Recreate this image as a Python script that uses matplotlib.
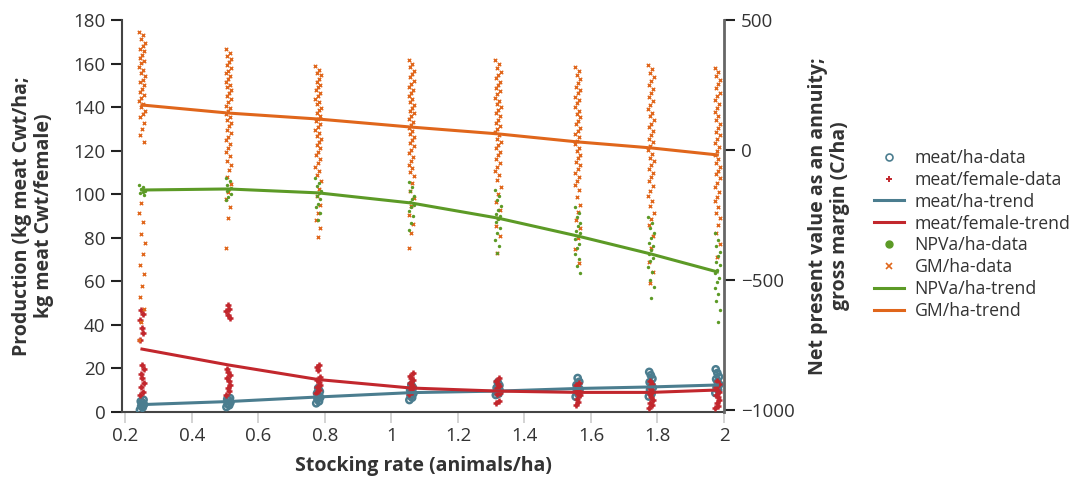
import numpy as np
import matplotlib
matplotlib.use("Agg")
import matplotlib.pyplot as plt
from matplotlib.lines import Line2D

plt.rcParams['font.family'] = ['Open Sans', 'DejaVu Sans']

# stocking rates (animals/ha)
rates = [0.25, 0.51, 0.78, 1.06, 1.32, 1.56, 1.78, 1.98]

# trend lines
meat_ha_trend = [3.4, 4.8, 6.9, 8.9, 9.6, 10.8, 11.5, 12.4]
meat_female_trend = [28.9, 21.6, 14.9, 11.0, 9.6, 9.0, 9.0, 10.1]
gm_trend = [173, 142, 119, 88, 62, 31, 8, -19]
npva_trend = [-154, -150, -165, -204, -262, -331, -400, -469]

# meat/ha data (kg meat Cwt/ha), one list per stocking rate
meat_ha_data = [
    [1.0, 2.1, 2.7, 3.4, 4.3, 4.9, 5.6],
    [2.3, 3.1, 3.7, 4.4, 5.3, 5.9, 6.4],
    [4.0, 4.9, 6.1, 6.7, 7.4, 8.6, 9.4, 11.0],
    [5.5, 6.6, 7.4, 8.5, 9.3, 10.1, 11.2, 12.4],
    [7.8, 8.4, 9.3, 9.8, 10.5, 11.1, 12.2, 13.6],
    [7.0, 8.1, 9.6, 10.4, 11.6, 12.4, 13.9, 15.6],
    [7.1, 8.4, 10.1, 11.2, 12.6, 13.7, 15.3, 16.9, 18.4],
    [8.7, 10.1, 11.2, 12.6, 13.7, 15.1, 16.2, 17.9, 19.6],
]

# meat/female data (kg meat Cwt/female)
meat_female_data = [
    [7.8, 9.4, 11.6, 13.3, 15.7, 17.4, 19.6, 21.6, 33.2, 36.1, 38.8, 42.3, 44.9, 47.0],
    [7.9, 9.6, 11.1, 12.4, 14.2, 15.4, 17.1, 18.4, 19.7, 43.1, 44.6, 46.2, 47.4, 49.0],
    [8.7, 10.1, 11.3, 12.4, 13.6, 14.7, 16.1, 19.4, 20.6, 21.6],
    [8.1, 9.4, 10.6, 11.4, 12.6, 13.4, 14.6, 15.4, 16.6, 18.0],
    [4.0, 4.9, 8.1, 8.9, 10.1, 10.9, 12.1, 12.9, 14.1, 15.6],
    [3.2, 4.6, 5.9, 7.6, 8.4, 9.6, 10.4, 11.6, 12.4, 13.3],
    [1.8, 3.1, 4.1, 5.6, 6.7, 8.1, 9.1, 10.5, 11.5, 12.9, 14.1],
    [1.9, 2.9, 4.3, 5.4, 6.9, 7.9, 9.3, 10.3, 11.7, 12.7, 14.2],
]

# NPVa/ha data (C/ha)
npva_data = [
    [-135, -144, -151, -156, -161, -166, -173],
    [-108, -121, -133, -146, -151, -159, -171, -181, -192],
    [-108, -126, -139, -156, -164, -176, -189, -206, -219, -241, -269],
    [-123, -141, -159, -176, -189, -201, -211, -219, -236, -254, -281, -308],
    [-154, -176, -194, -216, -229, -246, -254, -266, -279, -301, -319, -346, -369, -396],
    [-219, -241, -259, -281, -294, -311, -319, -331, -344, -361, -379, -401, -419, -446, -473],
    [-258, -281, -299, -321, -339, -356, -369, -386, -399, -416, -429, -451, -469, -501, -529, -569],
    [-319, -346, -369, -391, -409, -431, -444, -461, -474, -491, -509, -531, -554, -581, -614, -662],
]

# GM/ha data (C/ha)
gm_data = [
    [454, 441, 428, 412, 401, 388, 379, 366, 352, 341, 333, 318, 309, 296, 284, 271,
     262, 249, 236, 224, 211, 199, 188, 176, 164, 151, 140, 126, 104, 81, 56, 31,
     -204, -243, -279, -322, -358, -401, -442, -478, -522, -566, -611, -662, -731],
    [388, 372, 361, 349, 338, 327, 316, 304, 295, 283, 272, 263, 251, 241, 229, 218,
     207, 196, 184, 171, 162, 149, 139, 126, 114, 103, 91, 78, 66, 51, 38, 22,
     9, -6, -22, -41, -58, -77, -104, -131, -162, -189, -219, -262, -377],
    [323, 309, 296, 287, 274, 263, 251, 241, 229, 219, 208, 196, 186, 176, 163, 153,
     142, 131, 121, 111, 99, 88, 77, 66, 54, 43, 31, 19, 8, -6, -19, -36,
     -51, -66, -82, -96, -121, -151, -178, -211, -241, -268, -302, -335],
    [346, 331, 318, 303, 291, 279, 266, 254, 243, 231, 219, 208, 197, 186, 174, 163,
     151, 141, 129, 118, 106, 96, 84, 72, 61, 49, 38, 26, 14, 1, -12, -26,
     -41, -56, -71, -84, -99, -126, -156, -186, -216, -251, -286, -321, -377],
    [346, 329, 316, 301, 289, 276, 262, 251, 238, 226, 214, 201, 189, 178, 166, 153,
     141, 129, 117, 104, 93, 81, 68, 57, 44, 31, 19, 6, -8, -21, -36, -51,
     -66, -81, -97, -114, -141, -169, -201, -229, -262, -291, -331, -396],
    [319, 303, 289, 273, 259, 244, 231, 218, 204, 191, 179, 164, 151, 139, 126, 113,
     99, 86, 74, 61, 48, 36, 22, 9, -4, -18, -31, -46, -59, -74, -89, -103,
     -118, -134, -154, -181, -211, -239, -271, -301, -339, -381, -435],
    [327, 311, 296, 279, 264, 249, 234, 219, 203, 189, 173, 159, 144, 129, 116, 101,
     87, 72, 58, 43, 29, 14, 1, -14, -29, -44, -58, -74, -89, -104, -121, -138,
     -156, -176, -196, -216, -241, -264, -288, -331, -379, -431, -469, -512],
    [315, 299, 284, 268, 253, 238, 221, 206, 191, 176, 161, 146, 131, 116, 101, 86,
     71, 56, 41, 26, 11, -4, -19, -34, -49, -64, -79, -94, -109, -126, -143, -161,
     -179, -198, -219, -241, -263, -288, -321, -361, -412],
]

BLUE = '#4b7d8f'
RED = '#c2272d'
GREEN = '#5c9a26'
ORANGE = '#e0661b'
TXT = '#333333'


def jitter(n, w):
    return ((np.arange(n) * 7) % 11 - 5) * w


fig = plt.figure(figsize=(10.78, 4.79), dpi=100)
ax = fig.add_axes([122 / 1078, 1 - 412 / 479, 602 / 1078, 392 / 479])
ax2 = ax.twinx()

for x, vals in zip(rates, meat_ha_data):
    ax.scatter(x + jitter(len(vals), 0.0012), vals, s=20, marker='o', facecolors='none',
               edgecolors=BLUE, linewidths=1.8, zorder=3)
for x, vals in zip(rates, meat_female_data):
    ax.scatter(x + jitter(len(vals), 0.0012), vals, s=18, marker='+', color=RED,
               linewidths=1.8, zorder=4)
ax.plot(rates, meat_ha_trend, color=BLUE, lw=2.2, zorder=5)
ax.plot(rates, meat_female_trend, color=RED, lw=2.2, zorder=5)

for x, vals in zip(rates, gm_data):
    ax2.scatter(x + jitter(len(vals), 0.0017), vals, s=6, marker='x', color=ORANGE,
                linewidths=1.0, zorder=2)
for x, vals in zip(rates, npva_data):
    ax2.scatter(x + jitter(len(vals), 0.0017), vals, s=6, marker='o', color=GREEN,
                linewidths=0, zorder=3)
ax2.plot(rates, npva_trend, color=GREEN, lw=2.2, zorder=4)
ax2.plot(rates, gm_trend, color=ORANGE, lw=2.2, zorder=4)

ax.set_xlim(0.19, 2.0)
ax.set_ylim(0, 180)
ax2.set_ylim(-1008, 500)
ax.set_xticks([0.2, 0.4, 0.6, 0.8, 1.0, 1.2, 1.4, 1.6, 1.8, 2.0])
ax.set_xticklabels(['0.2', '0.4', '0.6', '0.8', '1', '1.2', '1.4', '1.6', '1.8', '2'])
ax.set_yticks(range(0, 181, 20))
ax2.set_yticks([500, 0, -500, -1000])

for a in (ax, ax2):
    a.spines['top'].set_visible(False)
ax.spines['right'].set_visible(False)
ax.spines['left'].set_color('#444444')
ax.spines['left'].set_linewidth(1.5)
ax.spines['bottom'].set_color('#444444')
ax.spines['bottom'].set_linewidth(1.5)
ax2.spines['left'].set_visible(False)
ax2.spines['bottom'].set_visible(False)
ax2.spines['right'].set_color('#666666')
ax2.spines['right'].set_linewidth(2)

ax.tick_params(axis='y', length=8, width=1.5, color='#222222', labelsize=13.5,
               labelcolor=TXT, pad=4)
ax.tick_params(axis='x', length=8, width=1.2, color='#cccccc', labelsize=13.5,
               labelcolor=TXT, pad=3)
ax2.tick_params(axis='y', length=8, width=1.5, color='#222222', labelsize=13.5,
                labelcolor=TXT, pad=4)

ax.set_xlabel('Stocking rate (animals/ha)', fontsize=14, fontweight='bold', color=TXT,
              labelpad=8)
ax.set_ylabel('Production (kg meat Cwt/ha;\nkg meat Cwt/female)', fontsize=14,
              fontweight='bold', color=TXT, linespacing=1.1, labelpad=14)
ax2.set_ylabel('Net present value as an annuity;\ngross margin (C/ha)', fontsize=14,
               fontweight='bold', color=TXT, linespacing=1.1, labelpad=10)

handles = [
    Line2D([], [], ls='none', marker='o', mfc='none', mec=BLUE, ms=5, mew=1.2),
    Line2D([], [], ls='none', marker='+', color=RED, ms=5, mew=1.4),
    Line2D([], [], color=BLUE, lw=2.2),
    Line2D([], [], color=RED, lw=2.2),
    Line2D([], [], ls='none', marker='o', color=GREEN, ms=5),
    Line2D([], [], ls='none', marker='x', color=ORANGE, ms=4, mew=1.2),
    Line2D([], [], color=GREEN, lw=2.2),
    Line2D([], [], color=ORANGE, lw=2.2),
]
labels = ['meat/ha-data', 'meat/female-data', 'meat/ha-trend', 'meat/female-trend',
          'NPVa/ha-data', 'GM/ha-data', 'NPVa/ha-trend', 'GM/ha-trend']
leg = fig.legend(handles, labels, loc='upper left', bbox_to_anchor=(858 / 1078, 1 - 133 / 479),
                 frameon=False, fontsize=12.7, handlelength=1.7, labelspacing=0.22,
                 handletextpad=0.6)
for t in leg.get_texts():
    t.set_color(TXT)

fig.savefig('out.png', dpi=100)
